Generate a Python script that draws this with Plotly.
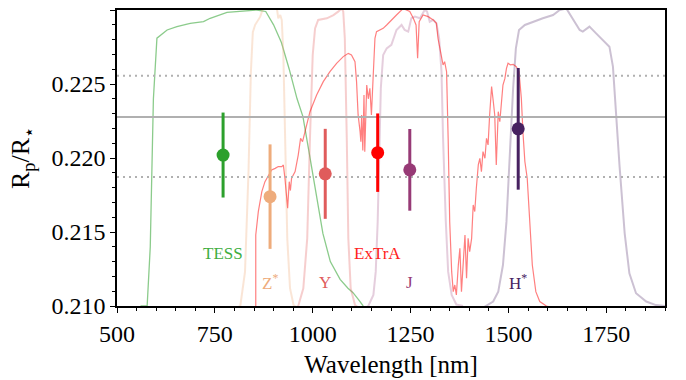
import plotly.graph_objects as go

# ---------------- data ----------------
bands = ["TESS", "Z<sup>*</sup>", "Y", "ExTrA", "J", "H<sup>*</sup>"]
band_wl = [771, 891, 1032, 1166, 1248, 1525]
band_rp = [0.22020, 0.21739, 0.21893, 0.22036, 0.21920, 0.22197]
band_err = [0.00287, 0.00353, 0.00304, 0.00265, 0.00276, 0.00411]
band_colors = ["#2ca02c", "#eeac7c", "#e05c5c", "#ff0000", "#973a76", "#472160"]
label_colors = ["#3fae3f", "#eeac7c", "#e05c5c", "#ff2020", "#973a76", "#472160"]
label_y = [0.21352, 0.21160, 0.21160, 0.21356, 0.21160, 0.21160]

mean_rp = 0.22277
upper_rp = 0.22556
lower_rp = 0.21871

tess_wl = [560, 577, 585, 593, 602, 615, 628, 653, 687, 721, 738, 781, 823, 857, 880,
           900, 920, 940, 960, 975, 990, 1001, 1015, 1026, 1045, 1070, 1090, 1103, 1118, 1129]
tess_tr = [0.2100, 0.2100, 0.2140, 0.2240, 0.2281, 0.2284, 0.22865, 0.22888, 0.2291, 0.22921,
           0.22944, 0.22984, 0.22995, 0.2300, 0.2299, 0.2290, 0.2278, 0.2260, 0.2240, 0.2228,
           0.2205, 0.2187, 0.2165, 0.2149, 0.2130, 0.2118, 0.2112, 0.2109, 0.2104, 0.2100]

zs_wl = [800, 815, 827, 836, 842, 847, 853, 866, 874, 890, 908, 912, 917, 921, 925, 929,
         935, 942, 951, 963]
zs_tr = [0.2098, 0.2100, 0.2123, 0.2191, 0.2258, 0.2285, 0.2290, 0.22955, 0.2302, 0.2303,
         0.2302, 0.22944, 0.22966, 0.22932, 0.22696, 0.22133, 0.21457, 0.2112, 0.21007, 0.2098]

y_wl = [950, 963, 976, 986, 993, 1000, 1006, 1014, 1036, 1053, 1065, 1074, 1078, 1082,
        1087, 1091, 1097, 1108, 1121]
y_tr = [0.2098, 0.2100, 0.2112, 0.21457, 0.22133, 0.22696, 0.22876, 0.22933, 0.22944,
        0.22966, 0.22989, 0.2301, 0.2299, 0.22809, 0.22133, 0.21457, 0.2112, 0.21007, 0.2098]

j_wl = [1130, 1142, 1155, 1161, 1166, 1170, 1174, 1180, 1189, 1201, 1214, 1227, 1235, 1244,
        1252, 1261, 1274, 1286, 1292, 1299, 1308, 1316, 1323, 1329, 1333, 1340, 1346, 1355,
        1367, 1384]
j_tr = [0.2098, 0.2100, 0.21075, 0.21232, 0.2157, 0.2203, 0.22471, 0.22696, 0.22741, 0.22764,
        0.22865, 0.22899, 0.22865, 0.22854, 0.22944, 0.22955, 0.22944, 0.2300, 0.2299, 0.22921,
        0.22933, 0.2291, 0.22809, 0.22583, 0.22133, 0.2157, 0.21232, 0.21075, 0.2101, 0.2100]

hs_wl = [1430, 1444, 1461, 1474, 1486, 1495, 1503, 1512, 1519, 1527, 1542, 1563, 1588, 1614,
         1631, 1648, 1665, 1682, 1690, 1707, 1724, 1741, 1758, 1767, 1775, 1784, 1797, 1809,
         1826, 1852, 1877, 1900]
hs_tr = [0.2098, 0.2100, 0.2103, 0.21097, 0.21277, 0.2157, 0.2203, 0.22471, 0.22741, 0.22865,
         0.22899, 0.22921, 0.22944, 0.22966, 0.2300, 0.2301, 0.22933, 0.22865, 0.22854, 0.22888,
         0.22842, 0.22797, 0.22752, 0.22617, 0.22279, 0.21942, 0.21491, 0.21221, 0.21086,
         0.2103, 0.21006, 0.2100]

extra_wl = [854.5, 854.5, 861, 870, 878, 887, 895, 904, 912, 921,
            925, 929, 934, 936, 940, 943, 946, 955, 963, 969,
            974, 980, 993, 1010, 1027, 1044, 1061, 1078, 1091, 1099,
            1108, 1112, 1116, 1121, 1123, 1125, 1128, 1131, 1133, 1138,
            1142, 1146, 1150, 1155, 1159, 1163, 1172, 1180, 1189, 1201,
            1214, 1231, 1248, 1257, 1264, 1268, 1272, 1282, 1295, 1308,
            1316, 1320, 1325, 1329, 1333, 1337, 1342, 1346, 1350, 1355,
            1359, 1363, 1367, 1372, 1376, 1380, 1384, 1389, 1393, 1397,
            1401, 1406, 1410, 1414, 1418, 1423, 1427, 1431, 1435, 1440,
            1444, 1448, 1452, 1457, 1461, 1465, 1469, 1474, 1478, 1482,
            1486, 1491, 1495, 1499, 1505, 1512, 1520, 1527, 1533, 1537,
            1542, 1548, 1554, 1561, 1570, 1580, 1597, 1610]
extra_tr = [0.2095, 0.2148, 0.21638, 0.21773, 0.21840, 0.21885, 0.21919, 0.21930, 0.21942, 0.21942,
            0.21953, 0.21863, 0.21683, 0.21660, 0.21840, 0.21780, 0.21863, 0.21908, 0.22020, 0.22133,
            0.2211, 0.22178, 0.22313, 0.22426, 0.22516, 0.22583, 0.2264, 0.22685, 0.22707, 0.22696,
            0.22651, 0.22516, 0.22291, 0.22178, 0.2211, 0.22291, 0.2205, 0.22426, 0.22043, 0.22493,
            0.2240, 0.22471, 0.22291, 0.22583, 0.22809, 0.22854, 0.22865, 0.22876, 0.22899, 0.22933,
            0.22966, 0.2301, 0.2299, 0.22944, 0.22899, 0.22674, 0.22921, 0.22966, 0.22955, 0.22933,
            0.2291, 0.22809, 0.22741, 0.22674, 0.22629, 0.22651, 0.22583, 0.22133, 0.2157, 0.21232,
            0.21097, 0.21142, 0.21075, 0.21277, 0.2139, 0.21097, 0.21277, 0.21480, 0.21187, 0.21457,
            0.21367, 0.21457, 0.21683, 0.21638, 0.21796, 0.21953, 0.21998, 0.21908, 0.22043, 0.21998,
            0.22133, 0.22088, 0.22291, 0.22482, 0.2239, 0.22291, 0.21953, 0.22313, 0.22246, 0.2238,
            0.22493, 0.22538, 0.22606, 0.22640, 0.2263, 0.22633, 0.22617, 0.22583, 0.22403, 0.22178,
            0.21976, 0.21863, 0.2157, 0.21277, 0.21097, 0.2103, 0.2100, 0.2099]

x_ticks = [500, 750, 1000, 1250, 1500, 1750]
y_ticks = [0.210, 0.215, 0.220, 0.225, 0.230]

FONT = "'Liberation Serif', 'Times New Roman', 'DejaVu Serif', serif"

fig = go.Figure()

curves = [
    (tess_wl, tess_tr, "rgba(44,160,44,0.55)", 1.3),
    (zs_wl, zs_tr, "rgba(240,170,120,0.30)", 2.0),
    (y_wl, y_tr, "rgba(224,92,92,0.30)", 2.0),
    (j_wl, j_tr, "rgba(151,58,118,0.25)", 2.0),
    (hs_wl, hs_tr, "rgba(71,33,96,0.28)", 2.0),
    (extra_wl, extra_tr, "rgba(255,0,0,0.5)", 1.2),
]
for wl, tr, col, w in curves:
    fig.add_trace(go.Scatter(x=wl, y=tr, mode="lines", line=dict(color=col, width=w),
                             hoverinfo="skip", showlegend=False))

for val, dash in [(mean_rp, "solid"), (upper_rp, "2px,4px"), (lower_rp, "2px,4px")]:
    fig.add_trace(go.Scatter(x=[x_ticks[0], 1900], y=[val, val], mode="lines",
                             line=dict(color="#b0b0b0", width=2, dash=dash),
                             hoverinfo="skip", showlegend=False))

for name, wl, rp, er, col in zip(bands, band_wl, band_rp, band_err, band_colors):
    fig.add_trace(go.Scatter(x=[wl], y=[rp], mode="markers",
                             marker=dict(color=col, size=13),
                             error_y=dict(type="data", array=[er], color=col, thickness=3, width=0),
                             showlegend=False, name=name))

for name, wl, ly, col in zip(bands, band_wl, label_y, label_colors):
    fig.add_annotation(x=wl, y=ly, text=name, showarrow=False,
                       font=dict(family=FONT, size=17, color=col),
                       xanchor="center", yanchor="middle")

axis_common = dict(showline=True, linecolor="black", linewidth=1.5, mirror=True,
                   showgrid=False, zeroline=False, ticks="outside", ticklen=5,
                   tickwidth=1.2, tickcolor="black",
                   tickfont=dict(family=FONT, size=24, color="black"))

fig.update_xaxes(range=[500, 1900], tickvals=x_ticks,
                 minor=dict(dtick=50, tick0=500, ticks="outside", ticklen=3, tickcolor="black"),
                 title=dict(text="Wavelength [nm]", font=dict(family=FONT, size=25, color="black"),
                            standoff=10),
                 **axis_common)
fig.update_yaxes(range=[0.210, 0.230], tickvals=y_ticks, tickformat=".3f",
                 minor=dict(dtick=0.001, tick0=0.210, ticks="outside", ticklen=3, tickcolor="black"),
                 title=dict(text="R<sub>p</sub>/R<sub>⋆</sub>", font=dict(family=FONT, size=26, color="black"),
                            standoff=14),
                 **axis_common)

fig.update_layout(width=686, height=380, plot_bgcolor="white", paper_bgcolor="white",
                  font=dict(family=FONT),
                  margin=dict(l=117, r=21, t=10, b=74, autoexpand=False))

fig.write_html("out.html", config={"displayModeBar": False},
               post_script="document.body.style.margin='0';")
